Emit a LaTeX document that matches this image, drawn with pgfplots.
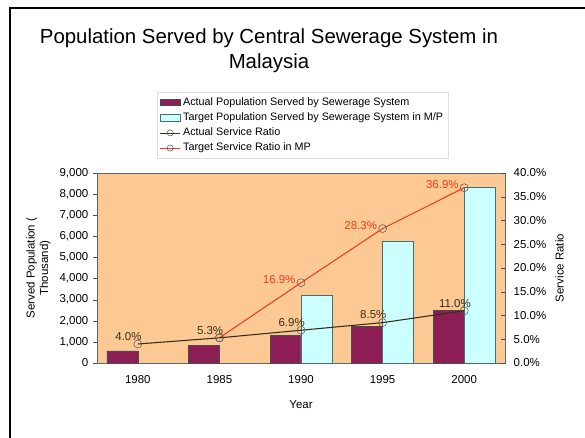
\documentclass[border=0pt]{standalone}
\usepackage{pgfplots}
\pgfplotsset{compat=1.18}
\usepackage{fontspec}
\setmainfont{Liberation Sans}
\definecolor{bgor}{RGB}{252,201,148}
\definecolor{actbar}{RGB}{140,30,85}
\definecolor{tgtbar}{RGB}{204,255,255}
\definecolor{tgtedge}{RGB}{70,110,110}
\definecolor{redline}{RGB}{240,60,30}
\definecolor{darkline}{RGB}{55,45,20}
\pgfplotsset{
  barleg/.style={legend image code/.code={\draw[##1] (0pt,-2.3pt) rectangle (15pt,2.3pt);}},
  lineleg/.style={legend image code/.code={\draw[mark repeat=2,mark phase=2,##1] plot coordinates {(0pt,0pt)(7.5pt,0pt)(15pt,0pt)};}},
}
\begin{document}
\begin{tikzpicture}
\useasboundingbox (0,0) rectangle (438.75pt,327.75pt);
\draw[line width=1.6pt] (7.5pt,-20pt) rectangle (470pt,321.75pt);
\node[align=center,font=\fontsize{15.3}{19}\selectfont] at (201.75pt,289.5pt)
  {Population Served by Central Sewerage System in\\Malaysia};
\begin{axis}[
  scale only axis, width=306pt, height=142.5pt,
  at={(72.75pt,55.5pt)}, anchor=south west,
  xmin=-0.5, xmax=4.5, ymin=0, ymax=9000,
  axis background/.style={fill=bgor},
  axis line style={draw=gray!80!black},
  tick style={draw=gray!60!black},
  tick align=outside, ytick pos=left,
  ytick={0,1000,...,9000}, scaled y ticks=false,
  xtick={0,...,4}, xticklabels={1980,1985,1990,1995,2000},
  major x tick style={draw=none},
  extra x ticks={0.5,1.5,2.5,3.5}, extra x tick labels={},
  extra x tick style={tick align=inside, major tick length=3pt},
  major tick length=3pt,
  /pgf/number format/assume math mode=true,
  tick label style={font=\fontsize{8.6}{10}\selectfont},
  xticklabel style={yshift=-3pt},
  xlabel={Year}, xlabel style={font=\fontsize{8.6}{10}\selectfont, yshift=-3pt},
  ylabel={Served Population (\\ Thousand)},
  ylabel style={font=\fontsize{8.6}{10}\selectfont, align=center},
  legend style={at={(0.147,1.426)}, anchor=north west, draw=gray!25,
    font=\fontsize{8.1}{9}\selectfont, cells={anchor=west}, row sep=0pt,
    inner sep=2pt},
]
\addplot[ybar, bar width=23.25pt, bar shift=-11.6pt, fill=actbar, draw=black!70, barleg]
  coordinates {(0,570) (1,820) (2,1300) (3,1720) (4,2480)};
\addlegendentry{Actual Population Served by Sewerage System}
\addplot[ybar, bar width=23.25pt, bar shift=11.6pt, fill=tgtbar, draw=tgtedge, barleg]
  coordinates {(2,3220) (3,5780) (4,8310)};
\addlegendentry{Target Population Served by Sewerage System in M/P}
\addlegendimage{darkline, mark=o, mark size=2.3pt, mark options={fill=white,draw=gray!70!black}, lineleg}
\addlegendentry{Actual Service Ratio}
\addlegendimage{redline, mark=o, mark size=2.3pt, mark options={fill=white,draw=gray!70!black}, lineleg}
\addlegendentry{Target Service Ratio in MP}
\end{axis}
\begin{axis}[
  scale only axis, width=306pt, height=142.5pt,
  at={(72.75pt,55.5pt)}, anchor=south west,
  xmin=-0.5, xmax=4.5, ymin=0, ymax=40,
  axis x line=none, axis y line*=right,
  axis line style={draw=gray!80!black},
  tick style={draw=gray!60!black},
  tick align=inside, major tick length=3pt,
  ytick={0,5,...,40},
  yticklabel={\pgfmathprintnumber[fixed,fixed zerofill,precision=1]{\tick}\%},
  /pgf/number format/assume math mode=true,
  tick label style={font=\fontsize{8.6}{10}\selectfont},
  yticklabel style={xshift=3pt},
  ylabel={Service Ratio},
  ylabel style={font=\fontsize{8.6}{10}\selectfont},
  clip=false,
]
\addplot[redline, thick, mark=o, mark size=3pt,
  mark options={fill=white, draw=gray!70!black, thin},
  point meta=explicit symbolic, nodes near coords,
  every node near coord/.append style={font=\fontsize{8.6}{10}\selectfont, text=redline,
    anchor=east, inner sep=0pt, xshift=-4pt, yshift=2.5pt}]
  coordinates {(1,5.3) [] (2,16.9) [16.9\%] (3,28.3) [28.3\%] (4,36.9) [36.9\%]};
\addplot[darkline, thick, mark=o, mark size=3pt,
  mark options={fill=white, draw=gray!70!black, thin},
  point meta=explicit symbolic, nodes near coords,
  every node near coord/.append style={font=\fontsize{8.6}{10}\selectfont, text=darkline,
    anchor=south, inner sep=0pt, xshift=-7pt, yshift=2.5pt}]
  coordinates {(0,4.0) [4.0\%] (1,5.3) [5.3\%] (2,6.9) [6.9\%] (3,8.5) [8.5\%] (4,11.0) [11.0\%]};
\end{axis}
\end{tikzpicture}
\end{document}
